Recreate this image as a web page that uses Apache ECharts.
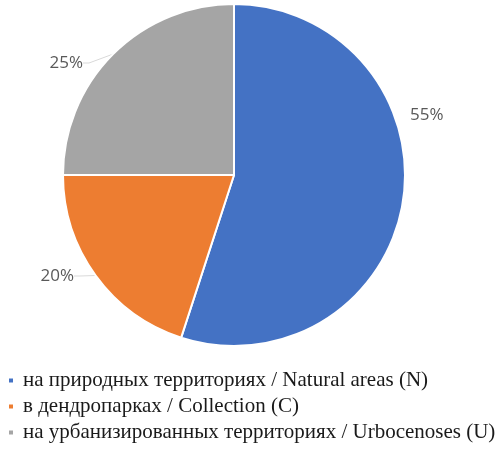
<!DOCTYPE html>
<html>
<head>
<meta charset="utf-8">
<script src="https://cdn.jsdelivr.net/npm/echarts@6/dist/echarts.min.js"></script>
<style>
  html, body { margin: 0; padding: 0; background: #fff; }
  #chart { width: 500px; height: 450px; }
</style>
</head>
<body>
<div id="chart"></div>
<script>
// Share of occurrences by habitat type
const categories = [
  "на природных территориях / Natural areas (N)",
  "в дендропарках / Collection (C)",
  "на урбанизированных территориях / Urbocenoses (U)"
]
const shares = [55, 20, 25]
const colors = ["#4472c4", "#ed7d31", "#a5a5a5"]

// where each percentage label sits (Excel-style best fit)
const labelSpots = [
  { x: 410, y: 115, align: "left" },
  { x: 74, y: 276, align: "right" },
  { x: 83, y: 63, align: "right" }
]
const showLeader = [false, true, true]

const chart = echarts.init(document.getElementById("chart"))

chart.setOption({
  animation: false,
  color: colors,
  legend: {
    orient: "vertical",
    left: 7,
    top: 370,
    padding: 0,
    icon: "rect",
    itemWidth: 6,
    itemHeight: 6,
    itemGap: 5,
    textStyle: {
      fontFamily: "Liberation Serif",
      fontSize: 21,
      lineHeight: 21,
      color: "#1a1a1a",
      padding: [0, 0, 0, 4]
    },
    data: categories
  },
  series: [
    {
      type: "pie",
      center: [234, 175],
      radius: 171,
      startAngle: 90,
      clockwise: true,
      itemStyle: {
        borderColor: "#fff",
        borderWidth: 2
      },
      label: {
        show: true,
        position: "outside",
        formatter: "{c}%",
        fontFamily: "Open Sans",
        fontSize: 17,
        color: "#595959"
      },
      labelLine: {
        show: true,
        length: 6,
        length2: 6,
        lineStyle: { color: "#d9d9d9", width: 1 }
      },
      labelLayout: function (params) {
        const spot = labelSpots[params.dataIndex]
        return {
          x: spot.x,
          y: spot.y,
          align: spot.align,
          verticalAlign: "middle"
        }
      },
      data: categories.map(function (name, i) {
        return {
          name: name,
          value: shares[i],
          labelLine: { show: showLeader[i] }
        }
      })
    }
  ]
})
</script>
</body>
</html>
